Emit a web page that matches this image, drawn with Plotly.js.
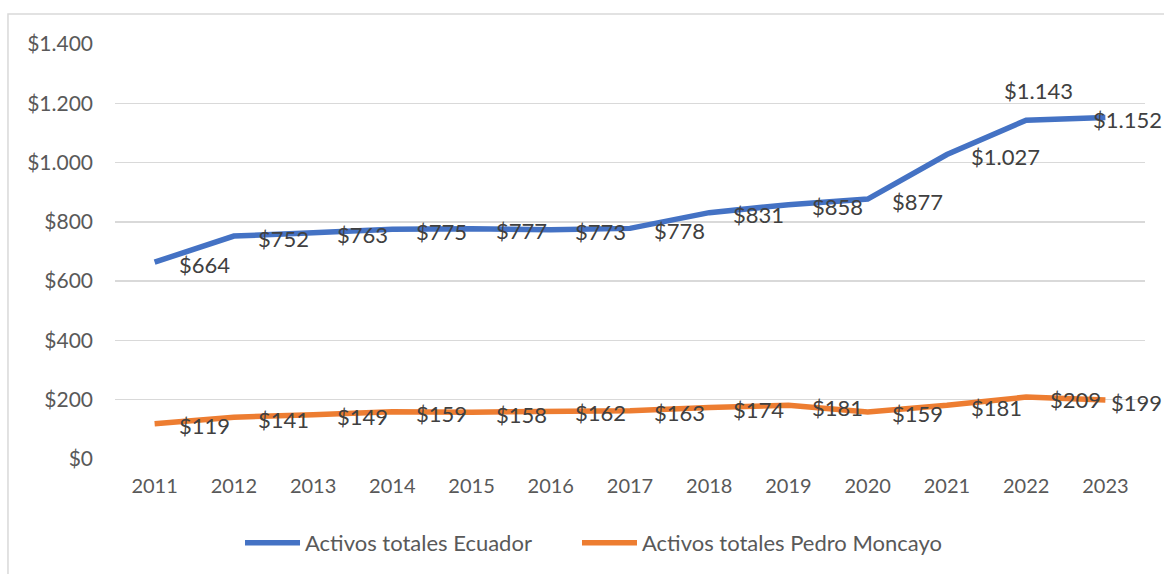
<!DOCTYPE html>
<html>
<head>
<meta charset="utf-8">
<script src="https://cdn.plot.ly/plotly-3.0.1.min.js"></script>
<style>
  html, body { margin: 0; padding: 0; background: #fff; }
  #chart { width: 1164px; height: 574px; }
</style>
</head>
<body>
<div id="chart"></div>
<script>
// ---- Data ----
const years = ['2011','2012','2013','2014','2015','2016','2017','2018','2019','2020','2021','2022','2023'];
const ecuador = [664, 752, 763, 775, 777, 773, 778, 831, 858, 877, 1027, 1143, 1152];
const pedroMoncayo = [119, 141, 149, 159, 158, 162, 163, 174, 181, 159, 181, 209, 199];
const seriesNames = ['Activos totales Ecuador', 'Activos totales Pedro Moncayo'];
const yTicks = [0, 200, 400, 600, 800, 1000, 1200, 1400];

// ---- Label placement (style) ----
// 'r' = right of point, 't' = above point, 'e' = right, kept inside the chart edge
const ecuadorLabelPos = ['r','r','r','r','r','r','r','r','r','r','r','t','e'];
const moncayoLabelPos = ['r','r','r','r','r','r','r','r','r','r','r','r','e'];

const colors = ['#4472C4', '#ED7D31'];
const FONT = 'Lato, "Open Sans", sans-serif';
const DOLLAR = String.fromCharCode(36);

function fmt(v) {
  return DOLLAR + String(v).replace(/\B(?=(\d{3})+(?!\d))/g, '.');
}

function makeLabels(vals, pos) {
  return vals.map(function (v, i) {
    const p = pos[i];
    const a = {
      x: i, y: v, xref: 'x', yref: 'y',   // category index of years[i]
      text: fmt(v), showarrow: false,
      font: {family: FONT, size: 22, color: '#404040'}
    };
    if (p === 't') {
      a.xanchor = 'center'; a.yanchor = 'middle'; a.xshift = 12; a.yshift = 30;
    } else if (p === 'e') {
      a.xanchor = 'right'; a.yanchor = 'middle'; a.xshift = 59; a.yshift = -2;
    } else {
      a.xanchor = 'left'; a.yanchor = 'middle'; a.xshift = 22; a.yshift = -2;
    }
    return a;
  });
}

const traces = [
  {x: years, y: ecuador, name: seriesNames[0], type: 'scatter', mode: 'lines',
   line: {color: colors[0], width: 5.5}, hoverinfo: 'skip', legend: 'legend'},
  {x: years, y: pedroMoncayo, name: seriesNames[1], type: 'scatter', mode: 'lines',
   line: {color: colors[1], width: 5.5}, hoverinfo: 'skip', legend: 'legend2'}
];

function legendAt(x) {
  return {
    orientation: 'h', xref: 'container', yref: 'container',
    x: x, xanchor: 'left', y: 0.054, yanchor: 'middle',
    font: {family: FONT, size: 22, color: '#595959'},
    itemwidth: 55, bgcolor: 'rgba(0,0,0,0)'
  };
}

const layout = {
  width: 1164, height: 574,
  margin: {l: 115, r: 19, t: 44, b: 115},
  paper_bgcolor: '#ffffff', plot_bgcolor: '#ffffff',
  font: {family: FONT, size: 20, color: '#595959'},
  showlegend: true,
  legend: legendAt(0.2062),
  legend2: legendAt(0.4957),
  xaxis: {
    type: 'category', range: [-0.5, 12.5], fixedrange: true,
    showgrid: false, zeroline: false, showline: false, ticks: '',
    ticklabelstandoff: 13,
    tickfont: {family: FONT, size: 20, color: '#595959'}
  },
  yaxis: {
    range: [0, 1400], tickmode: 'array', tickvals: yTicks, ticktext: yTicks.map(fmt),
    showgrid: true, gridcolor: '#d9d9d9', gridwidth: 1.5,
    zeroline: false, showline: false, ticks: '', fixedrange: true,
    ticklabelstandoff: 21,
    tickfont: {family: FONT, size: 21, color: '#595959'}
  },
  annotations: makeLabels(ecuador, ecuadorLabelPos).concat(makeLabels(pedroMoncayo, moncayoLabelPos)),
  shapes: [{
    type: 'rect', xref: 'paper', yref: 'paper',
    x0: -0.1039, x1: 1.5, y0: -1, y1: 1.0723,
    line: {color: '#d9d9d9', width: 1.5}, fillcolor: 'rgba(0,0,0,0)', layer: 'below'
  }]
};

Plotly.newPlot('chart', traces, layout, {displayModeBar: false, staticPlot: true});
</script>
</body>
</html>
